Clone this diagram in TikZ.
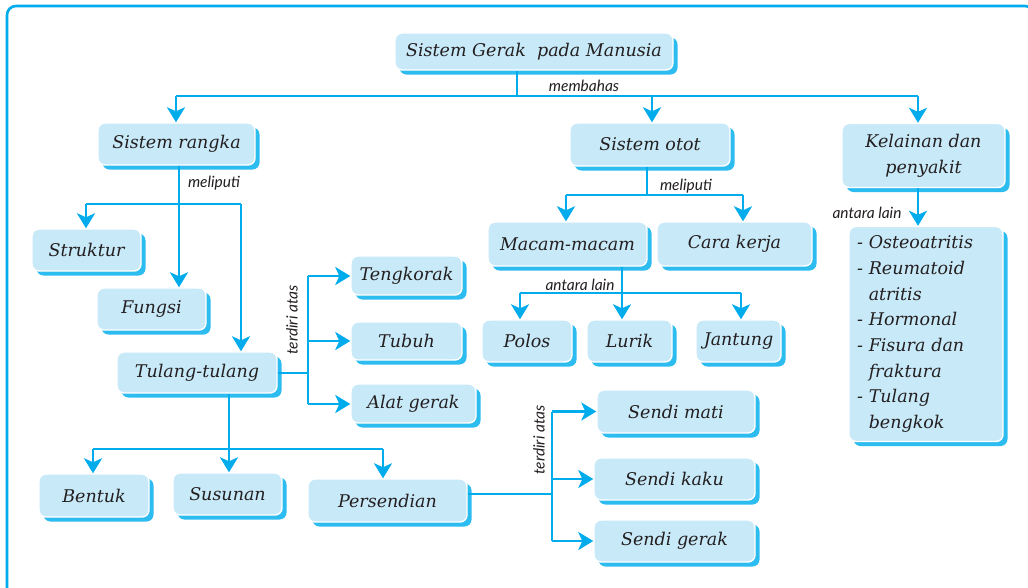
\documentclass[tikz,border=0pt]{standalone}
\usepackage{fontspec}
\setmainfont{DejaVu Serif}
\newfontfamily\labfont{Lato}
\usetikzlibrary{arrows.meta,shadows}
\definecolor{linecol}{RGB}{0,172,236}
\definecolor{boxfill}{RGB}{200,233,248}
\definecolor{shadowcol}{RGB}{45,188,240}
\definecolor{txt}{RGB}{35,31,32}
\tikzset{
  box/.style={rectangle, rounded corners=7pt, fill=boxfill, draw=white, line width=1.4pt,
    drop shadow={shadow xshift=4.5pt, shadow yshift=-4.5pt, fill=shadowcol, opacity=1},
    font=\itshape\fontsize{17.5}{24}\selectfont, text=txt, inner sep=0pt},
  conn/.style={draw=linecol, line width=2.6pt},
  arr/.style={conn, -{Stealth[width=18pt,length=15pt,inset=4pt]}},
  lab/.style={font=\labfont\itshape\fontsize{15.5}{17}\selectfont, text=txt, inner sep=0pt}
}
\begin{document}
\begin{tikzpicture}[x=1pt,y=-1pt]
\useasboundingbox (0,0) rectangle (1028,587);
\fill[white] (0,0) rectangle (1028,587);
\draw[linecol, line width=2.6pt, rounded corners=9pt] (7,600) -- (7,6) -- (1034,6) -- (1034,600);

% boxes
\node[box, minimum width=278pt, minimum height=37pt] (top) at (534,51.5) {Sistem Gerak\ \ pada Manusia};
\node[box, minimum width=157pt, minimum height=42pt] (rangka) at (176.5,144) {Sistem rangka};
\node[box, minimum width=160pt, minimum height=43pt] (otot) at (650,144.5) {Sistem otot};
\node[box, minimum width=163pt, minimum height=64pt, align=center, font=\itshape\fontsize{17.5}{26}\selectfont] (kelainan) at (923.5,155.5) {Kelainan dan\\penyakit};
\node[box, minimum width=109pt, minimum height=42pt] (struktur) at (86.5,250) {Struktur};
\node[box, minimum width=109pt, minimum height=42pt] (fungsi) at (151.5,309) {Fungsi};
\node[box, minimum width=160pt, minimum height=41pt] (tulang) at (197,372.5) {Tulang-tulang};
\node[box, minimum width=111pt, minimum height=39pt] (tengkorak) at (406.5,275.5) {Tengkorak};
\node[box, minimum width=111pt, minimum height=38pt] (tubuh) at (406.5,341) {Tubuh};
\node[box, minimum width=125pt, minimum height=39pt] (alat) at (413.5,403.5) {Alat gerak};
\node[box, minimum width=110pt, minimum height=43pt] (bentuk) at (94,495.5) {Bentuk};
\node[box, minimum width=109pt, minimum height=42pt] (susunan) at (227.5,494) {Susunan};
\node[box, minimum width=159pt, minimum height=43pt] (persendian) at (387.5,500.5) {Persendian};
\node[box, minimum width=158pt, minimum height=43pt] (mati) at (676,411.5) {Sendi mati};
\node[box, minimum width=161pt, minimum height=42pt] (kaku) at (674.5,479) {Sendi kaku};
\node[box, minimum width=161pt, minimum height=42pt] (gerak) at (674.5,541) {Sendi gerak};
\node[box, minimum width=159pt, minimum height=44pt] (macam) at (567.5,244) {Macam-macam};
\node[box, minimum width=155pt, minimum height=44pt] (cara) at (734.5,244) {Cara kerja};
\node[box, minimum width=90pt, minimum height=42pt] (polos) at (527,341) {Polos};
\node[box, minimum width=85pt, minimum height=42pt] (lurik) at (629.5,341) {Lurik};
\node[box, minimum width=85pt, minimum height=42pt] (jantung) at (738.5,341) {Jantung};
\node[box, minimum width=154pt, minimum height=215pt, inner xsep=8pt, text width=138pt, align=left,
  font=\itshape\fontsize{17.5}{25.7}\selectfont] (list) at (926,334)
  {-\ Osteoatritis\\-\ Reumatoid\\\phantom{-\ }atritis\\-\ Hormonal\\-\ Fisura dan\\\phantom{-\ }fraktura\\-\ Tulang\\\phantom{-\ }bengkok};

% top level
\coordinate (b1) at (517,96);
\coordinate (h1) at (176,96);
\coordinate (h2) at (652,96);
\coordinate (h3) at (918,96);
\draw[conn] (top.south -| b1) -- (b1);
\draw[conn] (h1) -- (h3);
\draw[arr] (h1) -- (h1 |- rangka.north);
\draw[arr] (h2) -- (h2 |- otot.north);
\draw[arr] (h3) -- (h3 |- kelainan.north);
\node[lab] (membahas) at (584,86) {membahas};

% sistem rangka
\coordinate (r0) at (179,204);
\coordinate (r1) at (86,204);
\coordinate (r2) at (241,204);
\draw[arr] (rangka.south -| r0) -- (r0 |- fungsi.north);
\draw[conn] (r1) -- (r2);
\draw[arr] (r1) -- (r1 |- struktur.north);
\draw[arr] (r2) -- (r2 |- tulang.north);
\node[lab] (meliputi1) at (214,183) {meliputi};

% tulang -> right
\coordinate (t0) at (308,373);
\coordinate (t1) at (308,276);
\coordinate (t2) at (308,341);
\coordinate (t3) at (308,404);
\draw[conn] (tulang.east |- t0) -- (t0);
\draw[conn] (t1) -- (t3);
\draw[arr] (t1) -- (tengkorak.west |- t1);
\draw[arr] (t2) -- (tubuh.west |- t2);
\draw[arr] (t3) -- (alat.west |- t3);
\node[lab, rotate=90] (terdiri1) at (292,320) {terdiri atas};

% tulang -> down
\coordinate (d0) at (229,449);
\coordinate (d1) at (93,449);
\coordinate (d2) at (383,449);
\draw[arr] (tulang.south -| d0) -- (d0 |- susunan.north);
\draw[conn] (d1) -- (d2);
\draw[arr] (d1) -- (d1 |- bentuk.north);
\draw[arr] (d2) -- (d2 |- persendian.north);

% persendian -> sendi
\coordinate (p0) at (552,494);
\coordinate (p1) at (552,411.5);
\coordinate (p2) at (552,479);
\coordinate (p3) at (552,541);
\draw[conn] (persendian.east |- p0) -- (p0);
\draw[conn] (p1) -- (p3);
\draw[arr] (p1) -- (mati.west |- p1);
\draw[arr] (p2) -- (kaku.west |- p2);
\draw[arr] (p3) -- (gerak.west |- p3);
\node[lab, rotate=90] (terdiri2) at (539,440) {terdiri atas};

% otot
\coordinate (o0) at (647,195);
\coordinate (o1) at (566,195);
\coordinate (o2) at (743,195);
\draw[conn] (otot.south -| o0) -- (o0);
\draw[conn] (o1) -- (o2);
\draw[arr] (o1) -- (o1 |- macam.north);
\draw[arr] (o2) -- (o2 |- cara.north);
\node[lab] (meliputi2) at (686,186) {meliputi};

% macam
\coordinate (m0) at (622,293);
\coordinate (m1) at (520,293);
\coordinate (m2) at (741,293);
\draw[arr] (macam.south -| m0) -- (m0 |- lurik.north);
\draw[conn] (m1) -- (m2);
\draw[arr] (m1) -- (m1 |- polos.north);
\draw[arr] (m2) -- (m2 |- jantung.north);
\node[lab] (antara1) at (580,285) {antara lain};

% kelainan
\coordinate (k0) at (918,200);
\draw[arr] (kelainan.south -| k0) -- (k0 |- list.north);
\node[lab] (antara2) at (867,213) {antara lain};
\end{tikzpicture}
\end{document}
